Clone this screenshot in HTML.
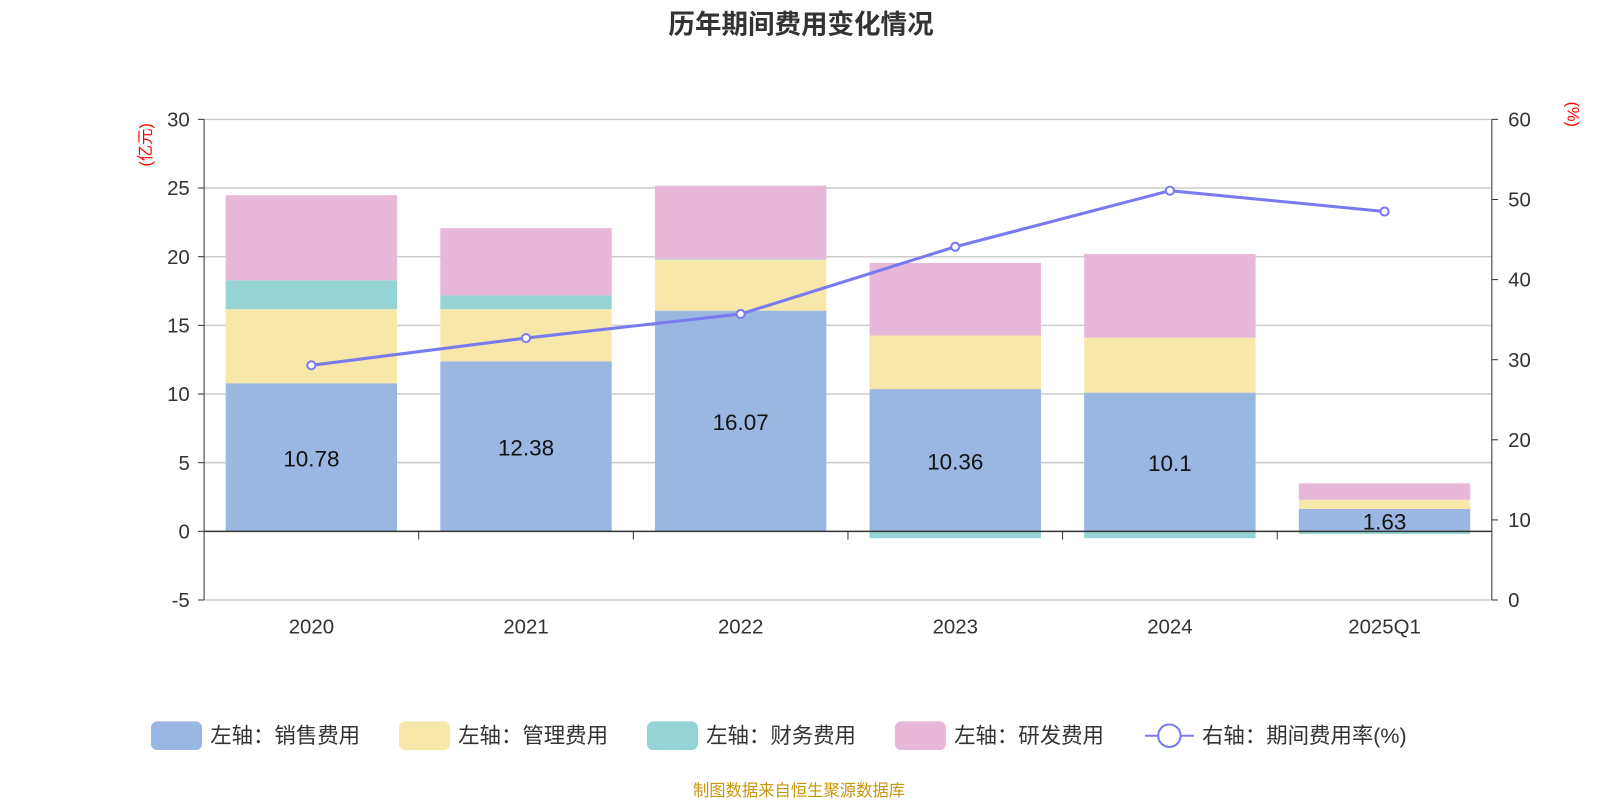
<!DOCTYPE html>
<html><head><meta charset="utf-8">
<style>
html,body{margin:0;padding:0;background:#fff;}
svg{display:block;font-family:"Liberation Sans","Noto Sans CJK SC",sans-serif;}
</style></head>
<body>
<svg id="chart" width="1600" height="800" viewBox="0 0 1568 784"></svg>
<script>
const categories=["2020","2021","2022","2023","2024","2025Q1"];
const sales=[10.78,12.38,16.07,10.36,10.1,1.63];
const admin=[5.4,3.8,3.7,3.9,4.0,0.67];
const finance=[2.1,1.0,0.05,-0.5,-0.5,-0.2];
const rnd=[6.2,4.9,5.35,5.28,6.1,1.2];
const rate=[29.3,32.7,35.7,44.1,51.1,48.5];
const leftTicks=[-5,0,5,10,15,20,25,30];
const rightTicks=[0,10,20,30,40,50,60];

const NS="http://www.w3.org/2000/svg";
const svg=document.getElementById('chart');
const X0=200,X1=1462,YT=117,YB=588;
const yL=v=>YB-(v+5)/35*(YB-YT);
const yR=v=>YB-v/60*(YB-YT);
const band=(X1-X0)/categories.length;
const xC=i=>X0+band*(i+0.5);
function el(tag,attrs,text){const e=document.createElementNS(NS,tag);for(const k in attrs)e.setAttribute(k,attrs[k]);if(text!==undefined)e.textContent=text;svg.appendChild(e);return e;}

let t=el('text',{x:785,y:33,'text-anchor':'middle','font-size':26,'font-weight':'bold',fill:'#333'},'历年期间费用变化情况');



leftTicks.forEach(v=>{
  if(v!==0){const g=el('line',{x1:X0,x2:X1,y1:yL(v),y2:yL(v),stroke:'#ccc','stroke-width':1.5});
  
  }
  const l=el('text',{x:186,y:yL(v)+7,'text-anchor':'end','font-size':20,fill:'#333'},String(v));
  
  
  el('line',{x1:194,x2:X0,y1:yL(v),y2:yL(v),stroke:'#333'});
});
rightTicks.forEach(v=>{
  const l=el('text',{x:1478,y:yR(v)+7,'font-size':20,fill:'#333'},String(v));
  
  
  el('line',{x1:X1,x2:X1+6,y1:yR(v),y2:yR(v),stroke:'#333'});
});
el('line',{x1:X0,x2:X0,y1:YT,y2:YB,stroke:'#333'});
el('line',{x1:X1,x2:X1,y1:YT,y2:YB,stroke:'#333'});
let u=el('text',{x:0,y:0,'font-size':16,fill:'red',transform:'translate(148,142) rotate(-90)','text-anchor':'middle'},'(亿元)');


u=el('text',{x:0,y:0,'font-size':16,fill:'red',transform:'translate(1536,112) rotate(90)','text-anchor':'middle'},'(%)');



const bw=168;
const colors={sales:'#9ab7e1',admin:'#f7e7a9',finance:'#95d3d5',rnd:'#e7b8d8'};
categories.forEach((c,i)=>{
  let pos=0,neg=0;
  [['sales',sales],['admin',admin],['finance',finance],['rnd',rnd]].forEach(([k,arr])=>{
    const v=arr[i];let a,b;
    if(v>=0){a=pos;b=pos+v;pos=b;}else{a=neg;b=neg+v;neg=b;}
    const r=el('rect',{x:xC(i)-bw/2,y:Math.min(yL(a),yL(b)),width:bw,height:Math.abs(yL(a)-yL(b)),fill:colors[k]});
    
    
  });
  const lb=el('text',{x:xC(i),y:(yL(0)+yL(sales[i]))/2+9,'text-anchor':'middle','font-size':22,fill:'#111'},String(sales[i]));
  
  
  const xl=el('text',{x:xC(i),y:621,'text-anchor':'middle','font-size':20,fill:'#333'},c);
  
  
});
el('line',{x1:X0,x2:X1,y1:yL(0),y2:yL(0),stroke:'#333','stroke-width':1.5});
for(let i=1;i<categories.length;i++)el('line',{x1:X0+band*i,x2:X0+band*i,y1:yL(0),y2:yL(0)+8,stroke:'#333'});

const pts=rate.map((v,i)=>xC(i)+','+yR(v)).join(' ');
const pl=el('polyline',{points:pts,fill:'none',stroke:'#7a7af0','stroke-width':3});


rate.forEach((v,i)=>{
  const p=el('circle',{cx:xC(i),cy:yR(v),r:4,fill:'#fff',stroke:'#7a7af0','stroke-width':2});
  
  
});

const legend=[['左轴：销售费用',colors.sales,148],['左轴：管理费用',colors.admin,391],['左轴：财务费用',colors.finance,634],['左轴：研发费用',colors.rnd,877]];
legend.forEach(([n,c,x])=>{
  const r=el('rect',{x:x,y:707,width:50,height:28,rx:6,fill:c});
  
  
  const lt=el('text',{x:x+58,y:728,'font-size':21,fill:'#333'},n);
  
  
});
el('line',{x1:1122,x2:1170,y1:721,y2:721,stroke:'#7a7af0','stroke-width':2});
const lc=el('circle',{cx:1146,cy:721,r:11,fill:'#fff',stroke:'#7a7af0','stroke-width':2});


const lt2=el('text',{x:1178,y:728,'font-size':21,fill:'#333'},'右轴：期间费用率(%)');



const f=el('text',{x:783,y:780,'text-anchor':'middle','font-size':16,fill:'#c8960a'},'制图数据来自恒生聚源数据库');


</script>
</body></html>
